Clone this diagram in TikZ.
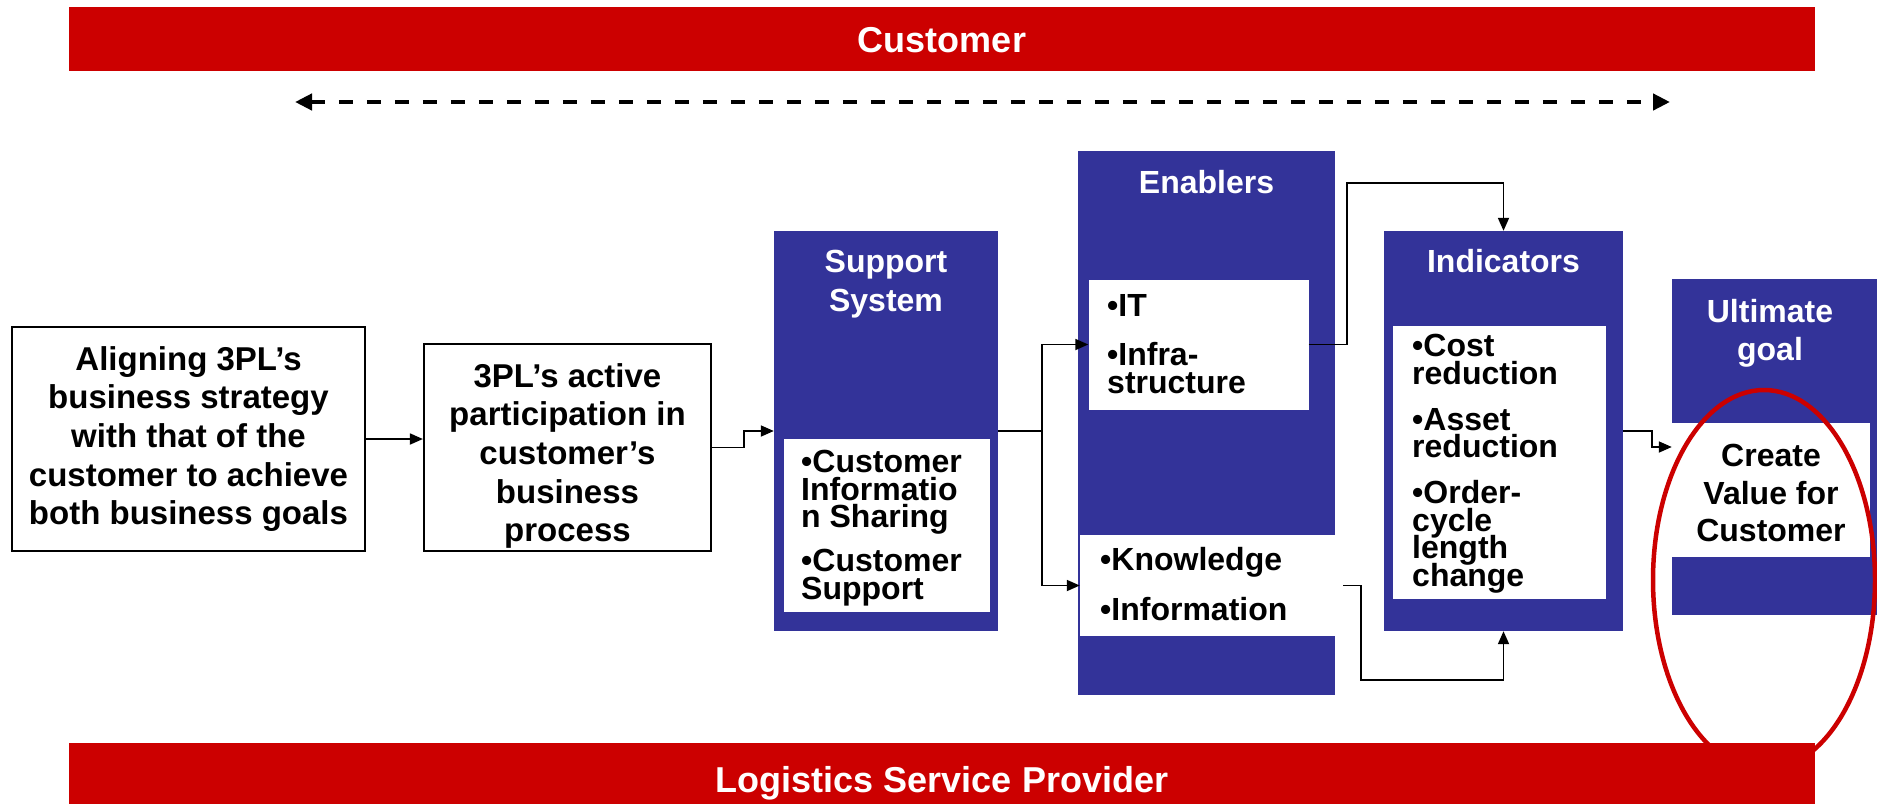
\documentclass[tikz,border=0pt]{standalone}
\usepackage{fontspec}
\setmainfont{Liberation Sans}
\usetikzlibrary{arrows.meta}
\definecolor{barred}{RGB}{204,0,0}
\definecolor{boxblue}{RGB}{51,51,153}
\begin{document}
\setlength{\lineskiplimit}{-50pt}%
\begin{tikzpicture}[x=1pt,y=-1pt,
  bar/.style={fill=barred, draw=none, inner sep=0pt},
  bartext/.style={text=white, inner sep=0pt, font=\fontsize{36}{43}\selectfont\bfseries},
  plainbox/.style={draw=black, line width=2.2pt, fill=white, inner sep=0pt},
  plaintext/.style={align=center, inner sep=0pt, font=\fontsize{33}{38.7}\selectfont\bfseries},
  bluebox/.style={fill=boxblue, draw=none, inner sep=0pt},
  whitebox/.style={fill=white, draw=none, inner sep=0pt},
  title/.style={text=white, align=center, inner sep=0pt, font=\fontsize{32}{38.3}\selectfont\bfseries},
  listtext/.style={align=left, inner sep=0pt, anchor=west, font=\fontsize{32}{27.5}\selectfont\bfseries},
  conn/.style={line width=1.8pt, -{Triangle[length=13pt,width=11pt]}},
]
\useasboundingbox (0,0) rectangle (1877,804);
\fill[white] (0,0) rectangle (1877,804);

% top bar and dashed arrow
\node[bar, minimum width=1746pt, minimum height=64pt] (cust) at (942,39) {};
\node[bartext] (custt) at (942,40.5) {Customer};
\coordinate (dl) at (295,102);
\coordinate (dr) at (1670,102);
\draw[line width=4.3pt, dash pattern=on 14pt off 14pt, {Triangle[length=17pt,width=16pt]}-{Triangle[length=17pt,width=16pt]}] (dl) -- (dr);

% plain boxes
\node[plainbox, minimum width=353pt, minimum height=224pt] (b1) at (188.5,439) {};
\node[plaintext] (b1t) at (188.5,439) {Aligning 3PL’s\\business strategy\\with that of the\\customer to achieve\\both business goals};
\node[plainbox, minimum width=287pt, minimum height=207pt] (b2) at (567.5,447.5) {};
\node[plaintext] (b2t) at (567.5,456) {3PL’s active\\participation in\\customer’s\\business\\process};

% Support system
\node[bluebox, minimum width=224pt, minimum height=400pt] (sup) at (886,431) {};
\node[title] (supt) at (886,284) {Support\\System};
\node[whitebox, minimum width=206pt, minimum height=173pt] (supw) at (887,525.5) {};
\node[listtext] (supl) at (801,528) {•Customer\\Informatio\\n Sharing\\[16.5pt]•Customer\\Support};

% Enablers
\node[bluebox, minimum width=257pt, minimum height=544pt] (enb) at (1206.5,423) {};
\node[title] (enbt) at (1206.5,182) {Enablers};
\node[whitebox, minimum width=220pt, minimum height=130pt] (it) at (1198.5,344.5) {};
\node[listtext] (itl) at (1107,344) {•IT\\[22pt]•Infra-\\structure};
\node[whitebox, minimum width=255pt, minimum height=101pt] (know) at (1207.5,585.5) {};
\node[listtext] (knowl) at (1100,584) {•Knowledge\\[22pt]•Information};

% Indicators
\node[bluebox, minimum width=239pt, minimum height=400pt] (ind) at (1503.5,431) {};
\node[title] (indt) at (1503.5,261) {Indicators};
\node[whitebox, minimum width=213pt, minimum height=273pt] (indw) at (1499.5,462.5) {};
\node[listtext] (indl) at (1412,463.5) {•Cost\\reduction\\[18.5pt]•Asset\\reduction\\[18.5pt]•Order-\\cycle\\length\\change};

% Ultimate goal
\node[bluebox, minimum width=205pt, minimum height=336pt] (ult) at (1774.5,447) {};
\node[title] (ultt) at (1770,333) {Ultimate\\goal};
\node[whitebox, minimum width=198pt, minimum height=134pt] (ultw) at (1771,490) {};
\node[align=center, inner sep=0pt, font=\fontsize{32}{37.5}\selectfont\bfseries] (ultwt) at (1771,493) {Create\\Value for\\Customer};

% connectors
\draw[conn] (b1.east) -- (b1.east -| b2.west);
\draw[conn] (b2.east) -- ++(32,0) |- (sup.west);
\draw[conn] (sup.east) -- ++(44,0) |- (it.west);
\draw[conn] (sup.east) -- ++(44,0) |- (know.west);
\draw[conn] (it.east) -- ++(38,0) |- ([yshift=48pt]ind.north) -- (ind.north);
\draw[conn] ([xshift=8pt]know.east) -- ++(18,0) |- ([yshift=-49pt]ind.south) -- (ind.south);
\draw[conn] (ind.east) -- ++(29,0) |- (ult.west);

% highlight ellipse
\draw[barred, line width=4.5pt] (1764,580) ellipse [x radius=111pt, y radius=190pt];

% bottom bar
\node[bar, minimum width=1746pt, minimum height=61pt] (lsp) at (942,773.5) {};
\node[bartext] (lspt) at (942,783) {Logistics Service Provider};
\end{tikzpicture}
\end{document}
